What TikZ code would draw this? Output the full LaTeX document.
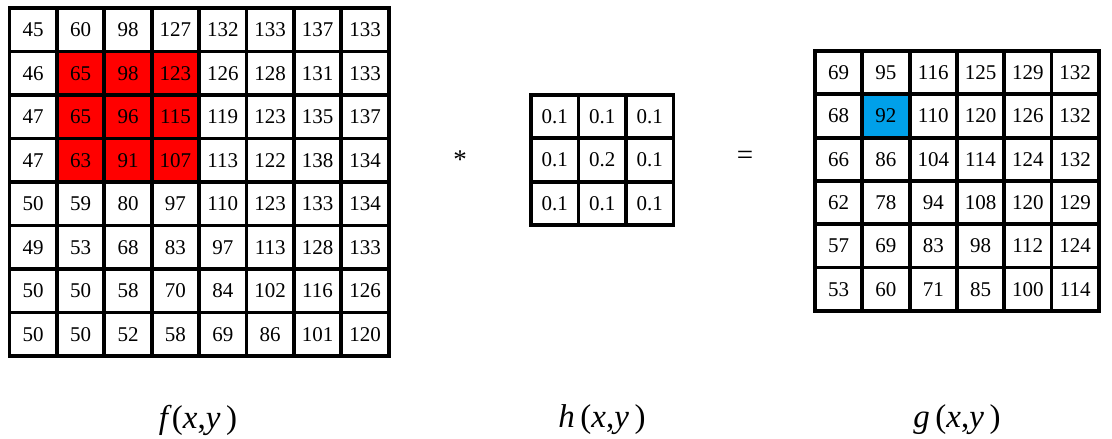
\documentclass[tikz,border=0pt]{standalone}
\usepackage{fontspec}
\setmainfont{Liberation Serif}
\usetikzlibrary{positioning}
\definecolor{cellred}{RGB}{255,0,0}
\definecolor{cellblue}{RGB}{0,160,233}

\begin{document}
\begin{tikzpicture}[x=1pt,y=-1pt,
                    cell/.style={rectangle, draw, line width=3.8pt, inner sep=0pt,
                                 minimum width=47.4pt, minimum height=43.4pt,
                                 font=\fontsize{21}{21}\selectfont},
                    hot/.style={cell, fill=cellred},
                    pick/.style={cell, fill=cellblue},
                    fname/.style={font=\fontsize{33}{33}\selectfont}]
  \useasboundingbox (0,0) rectangle (1112,439);

  % Input image f
  \foreach \row [count=\r] in {{45,60,98,127,132,133,137,133},
                               {46,65,98,123,126,128,131,133},
                               {47,65,96,115,119,123,135,137},
                               {47,63,91,107,113,122,138,134},
                               {50,59,80,97,110,123,133,134},
                               {49,53,68,83,97,113,128,133},
                               {50,50,58,70,84,102,116,126},
                               {50,50,52,58,69,86,101,120}} {
    \foreach \v [count=\c] in \row {
      \def\sty{cell}
      \ifnum\r>1 \ifnum\r<5 \ifnum\c>1 \ifnum\c<5 \def\sty{hot}\fi\fi\fi\fi
      \node[\sty] (f-\r-\c) at ({9.5+47.4*(\c-0.5)},{8+43.5*(\r-0.5)}) {\v};
    }
  }

  % Kernel h
  \foreach \row [count=\r] in {{0.1,0.1,0.1},{0.1,0.2,0.1},{0.1,0.1,0.1}} {
    \foreach \v [count=\c] in \row {
      \node[cell] (h-\r-\c) at ({531+47.5*(\c-0.5)},{95+43.3*(\r-0.5)}) {\v};
    }
  }

  % Output g
  \foreach \row [count=\r] in {{69,95,116,125,129,132},
                               {68,92,110,120,126,132},
                               {66,86,104,114,124,132},
                               {62,78,94,108,120,129},
                               {57,69,83,98,112,124},
                               {53,60,71,85,100,114}} {
    \foreach \v [count=\c] in \row {
      \def\sty{cell}
      \ifnum\r=2 \ifnum\c=2 \def\sty{pick}\fi\fi
      \node[\sty] (g-\r-\c) at ({815+47.3*(\c-0.5)},{51+43.3*(\r-0.5)}) {\v};
    }
  }

  % Operators
  \node[font=\fontsize{27}{27}\selectfont] (star) at (460,160) {*};
  \node[font=\fontsize{29}{29}\selectfont] (eq) at (745,158) {=};

  % Labels
  \node[fname] (flab) at (198,420) {\textit{f}(\textit{x},\textit{y}\,)};
  \node[fname] (hlab) at (602,420) {\textit{h}\,(\textit{x},\textit{y}\,)};
  \node[fname] (glab) at (957,420) {\textit{g}\,(\textit{x},\textit{y}\,)};
\end{tikzpicture}
\end{document}
